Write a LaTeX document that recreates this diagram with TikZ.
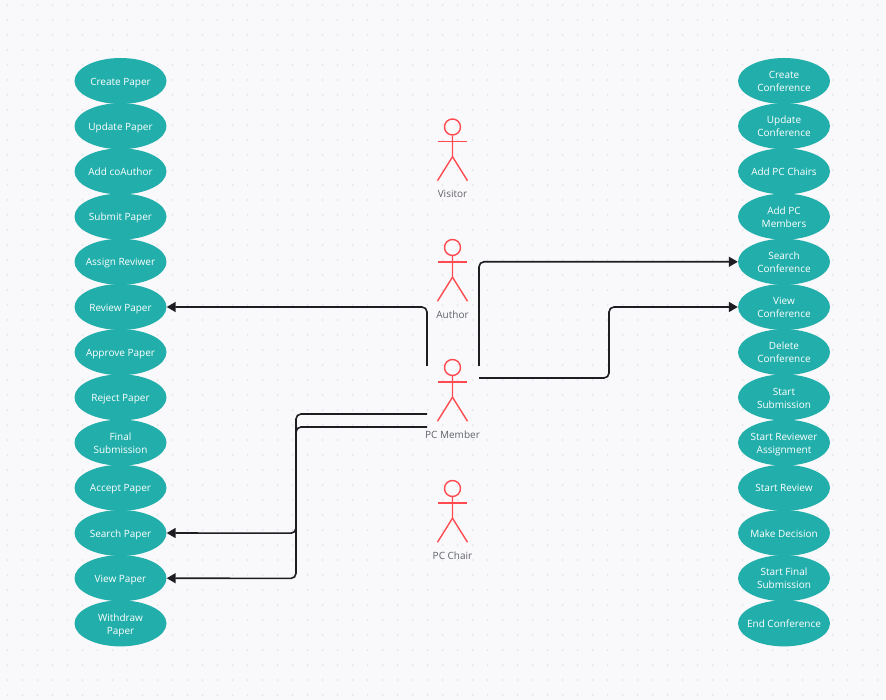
\documentclass[tikz,border=0pt]{standalone}
\usepackage{fontspec}
\setmainfont{Open Sans}
\usetikzlibrary{shapes.geometric,arrows.meta}
\definecolor{bgc}{HTML}{F9F9FC}
\definecolor{dotc}{HTML}{E4E4EA}
\definecolor{teal1}{HTML}{22AFAB}
\definecolor{actorc}{HTML}{FF4B4F}
\definecolor{labelc}{HTML}{5F6268}
\definecolor{linec}{HTML}{1E1E22}
\newcommand{\uctext}[1]{\raisebox{0pt}[\dimexpr\height+3pt\relax][\depth]{\begin{tabular}{@{}c@{}}#1\end{tabular}}}
\tikzset{
  usecase/.style={ellipse,fill=teal1,text=white,inner xsep=-30pt,inner ysep=-10pt,minimum width=92pt,minimum height=46pt,font=\fontsize{10}{13}\selectfont},
  actorline/.style={draw=actorc,line width=1.4pt},
  actorlabel/.style={text=labelc,inner sep=0pt,font=\fontsize{10}{12}\selectfont},
  link/.style={draw=linec,line width=1.6pt,rounded corners=5pt,-{Triangle[length=9pt,width=10pt]}},
}
\newcommand{\stickman}[3]{% name, head centre y, label
  \node[circle,draw=actorc,line width=1.4pt,minimum size=16pt,inner sep=0pt] (#1) at (452.5,#2) {};
  \draw[actorline] (#1.south) -- ++(0,21) coordinate (#1hip) -- ++(-15,24);
  \draw[actorline] (#1hip) -- ++(15,24);
  \draw[actorline] (438,#2+14.5) -- (467,#2+14.5);
  \node[actorlabel] (#1label) at (452.5,#2+67) {#3};
}
\begin{document}
\begin{tikzpicture}[x=1pt,y=-1pt]
\useasboundingbox (0,0) rectangle (886,700);
\fill[bgc] (0,0) rectangle (886,700);
\foreach \i in {0,...,58}{\foreach \j in {0,...,46}{
  \fill[dotc] (7.5+15*\i,5+15*\j) circle (1pt);
}}
\foreach \n/\t [count=\k from 0] in {cp/Create Paper,up/Update Paper,ac/Add coAuthor,sp/Submit Paper,ar/Assign Reviwer,rp/Review Paper,apr/Approve Paper,rej/Reject Paper,fs/{Final\\Submission},acc/Accept Paper,srp/Search Paper,vp/View Paper,wp/{Withdraw\\Paper}}{
  \node[usecase] (\n) at (120.5,81+45.2*\k) {\uctext{\t}};
}
\foreach \n/\t [count=\k from 0] in {cc/{Create\\Conference},uc/{Update\\Conference},apc/Add PC Chairs,apm/{Add PC\\Members},sc/{Search\\Conference},vc/{View\\Conference},dc/{Delete\\Conference},ss/{Start\\Submission},sra/{Start Reviewer\\Assignment},sr/Start Review,md/Make Decision,sfs/{Start Final\\Submission},ec/End Conference}{
  \node[usecase] (\n) at (784,81+45.2*\k) {\uctext{\t}};
}
\stickman{visitor}{127}{Visitor}
\stickman{author}{247.5}{Author}
\stickman{member}{367.5}{PC Member}
\stickman{chair}{488.5}{PC Chair}
\coordinate (m1) at (427,366);
\coordinate (m2) at (479,366);
\coordinate (m3) at (479,378);
\coordinate (m4) at (427,414);
\coordinate (m5) at (427,427);
\draw[link] (m1) |- (rp.east);
\draw[link] (m2) |- (sc.west);
\draw[link] (m3) -- (609,378) -- (609,307) -- (vc.west);
\draw[link] (m4) -- (296,414) -- (296,533.2) -- (srp.east);
\draw[link] (m5) -- (296,427) -- (296,578.4) -- (vp.east);
\end{tikzpicture}
\end{document}
